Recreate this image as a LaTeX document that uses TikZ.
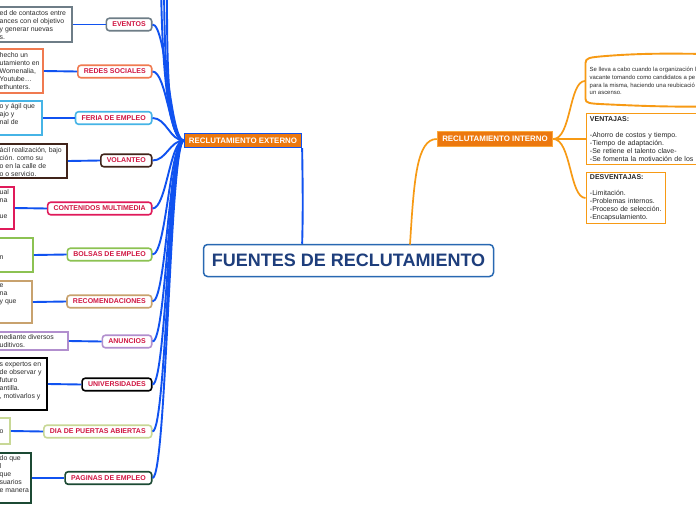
\documentclass[tikz,border=0pt]{standalone}
\usepackage{fontspec}
\setmainfont{Liberation Sans}
\definecolor{blu}{RGB}{16,82,240}
\definecolor{ora}{RGB}{247,154,20}
\definecolor{orafill}{RGB}{236,120,14}
\definecolor{oraborder}{RGB}{250,168,60}
\definecolor{labred}{RGB}{208,22,66}
\definecolor{ctext}{RGB}{30,62,124}
\definecolor{cbord}{RGB}{40,104,178}
\definecolor{dtext}{RGB}{45,45,45}
\definecolor{cEv}{RGB}{110,125,135}
\definecolor{cRs}{RGB}{240,122,80}
\definecolor{cFe}{RGB}{70,180,230}
\definecolor{cVo}{RGB}{64,36,26}
\definecolor{cCm}{RGB}{224,26,90}
\definecolor{cBo}{RGB}{140,194,82}
\definecolor{cRe}{RGB}{200,162,110}
\definecolor{cAn}{RGB}{178,143,206}
\definecolor{cUn}{RGB}{0,0,0}
\definecolor{cDi}{RGB}{200,216,150}
\definecolor{cPa}{RGB}{28,74,52}
\tikzset{
  lab/.style={draw=#1, fill=white, rounded corners=3pt, line width=1.6pt, text=labred,
    font=\fontsize{7}{8}\selectfont\bfseries, inner xsep=6pt, inner ysep=0pt,
    minimum height=12.5pt, anchor=east},
  dbox/.style={draw=#1, fill=white, line width=1.9pt, inner sep=0pt},
  dtxt/.style={anchor=west, align=left, inner sep=0pt, text=dtext,
    font=\fontsize{6.9}{8}\selectfont},
  bl/.style={draw=blu, line width=1.9pt},
  ol/.style={draw=ora, line width=1.7pt},
  obox/.style={draw=ora, fill=white, line width=1.9pt, anchor=west, align=left,
    inner xsep=3.5pt, inner ysep=0pt, text=black!85,
    font=\fontsize{7}{8}\selectfont},
}
\begin{document}
\begin{tikzpicture}[x=1pt,y=-1pt]
\useasboundingbox (0,0) rectangle (696,520);
\fill[white] (0,0) rectangle (696,520);

% central
\node[draw=cbord, line width=1.5pt, rounded corners=4pt, fill=white, text=ctext,
  font=\fontsize{18}{20}\selectfont\bfseries, minimum width=290pt, minimum height=32pt,
  inner sep=0pt] (c) at (348.5,260.5) {FUENTES DE RECLUTAMIENTO};

% main branches
\node[draw=blu, fill=orafill, line width=1.3pt, text=white, font=\fontsize{7.9}{9}\selectfont\bfseries,
  minimum width=117pt, minimum height=14pt, inner sep=0pt] (ext) at (243,140.5) {RECLUTAMIENTO EXTERNO};
\node[draw=oraborder, fill=orafill, line width=1.5pt, text=white, font=\fontsize{7.9}{9}\selectfont\bfseries,
  minimum width=115pt, minimum height=15pt, inner sep=0pt] (int) at (495,139) {RECLUTAMIENTO INTERNO};

% left labels
\node[lab=cEv] (l1) at (152.5,24.5) {EVENTOS};
\node[lab=cRs] (l2) at (152.5,71.5) {REDES SOCIALES};
\node[lab=cFe] (l3) at (152.5,118) {FERIA DE EMPLEO};
\node[lab=cVo] (l4) at (152.5,160.5) {VOLANTEO};
\node[lab=cCm] (l5) at (152.5,208.5) {CONTENIDOS MULTIMEDIA};
\node[lab=cBo] (l6) at (152.5,254.5) {BOLSAS DE EMPLEO};
\node[lab=cRe] (l7) at (152.5,301.5) {RECOMENDACIONES};
\node[lab=cAn] (l8) at (152.5,341.5) {ANUNCIOS};
\node[lab=cUn] (l9) at (152.5,384.5) {UNIVERSIDADES};
\node[lab=cDi] (l10) at (152.5,431.5) {DIA DE PUERTAS ABIERTAS};
\node[lab=cPa] (l11) at (152.5,478) {PAGINAS DE EMPLEO};

% left description boxes
\node[dbox=cEv, minimum width=82pt, minimum height=35.5pt] (d1) at (31,24.5) {};
\node[dbox=cRs, minimum width=53pt, minimum height=44pt] (d2) at (16.5,71) {};
\node[dbox=cFe, minimum width=52pt, minimum height=34.5pt] (d3) at (16,118) {};
\node[dbox=cVo, minimum width=77pt, minimum height=34.5pt] (d4) at (28.5,161) {};
\node[dbox=cCm, minimum width=24pt, minimum height=42.5pt] (d5) at (2,208) {};
\node[dbox=cBo, minimum width=43pt, minimum height=34.5pt] (d6) at (11.5,255) {};
\node[dbox=cRe, minimum width=42pt, minimum height=42.5pt] (d7) at (11,302) {};
\node[dbox=cAn, minimum width=78pt, minimum height=18.5pt] (d8) at (29,341) {};
\node[dbox=cUn, minimum width=57pt, minimum height=52pt] (d9) at (18.5,384) {};
\node[dbox=cDi, minimum width=20pt, minimum height=26.5pt] (d10) at (0,431) {};
\node[dbox=cPa, minimum width=41pt, minimum height=50.5pt] (d11) at (10.5,478) {};

\node[dtxt] (t1) at (-0.5,25) {ed de contactos entre\\ances con el objetivo\\y generar nuevas\\s.};
\node[dtxt] (t2) at (-0.5,71.5) {hecho un\\utamiento en\\Womenalia,\\Youtube…\\ethunters.};
\node[dtxt] (t3) at (-0.5,118) {o y ágil que\\ajo y\\nal de\\\mbox{}};
\node[dtxt] (t4) at (-0.5,161.5) {ácil realización, bajo\\ción. como su\\o en la calle de\\o o servicio.};
\node[dtxt] (t5) at (-0.5,208) {ual\\na\\\mbox{}\\ue\\\mbox{}};
\node[dtxt] (t6) at (-0.5,255) {\mbox{}\\\mbox{}\\n\\\mbox{}};
\node[dtxt] (t7) at (-0.5,302) {e\\na\\y que\\\mbox{}\\\mbox{}};
\node[dtxt] (t8) at (-0.5,341.5) {nediante diversos\\uditivos.};
\node[dtxt] (t9) at (-0.5,384.5) {s expertos en\\de observar y\\futuro\\antilla.\\, motivarlos y\\\mbox{}};
\node[dtxt] (t10) at (-0.5,431.5) {o};
\node[dtxt] (t11) at (-0.5,478) {do que\\l\\que\\suarios\\e manera\\\mbox{}};

% label -> description connectors
\foreach \i in {1,...,11} {\draw[bl] (l\i.west) -- (d\i.east);}

% hub -> labels
\foreach \i in {1,...,11} {\draw[bl] (ext.west) .. controls +(-14,0) and +(14,0) .. (l\i.east);}
\coordinate (u1) at (161,-30);
\coordinate (u2) at (164,-30);
\coordinate (u3) at (167,-30);
\foreach \u in {u1,u2,u3} {\draw[bl] (ext.west) .. controls +(-18,0) and +(0,70) .. (\u);}

% central -> external
\draw[bl] (ext.south east) .. controls +(0.5,40) and +(1,-40) .. (c.north -| ext.south east);

% central -> internal
\coordinate (cO) at (410,244.5);
\draw[ol] (cO) .. controls +(4,-65) and +(-20,0) .. (int.west);

% right boxes
\coordinate (dsin) at (585,81);
\draw[draw=ora, line width=1.9pt, fill=white]
  (585.5,99) -- (585.5,63) .. controls (585.5,58) and (590,57.5) .. (600,56.5)
  .. controls (640,53) and (670,53.5) .. (710,54)
  -- (710,106.5) .. controls (670,107) and (640,106) .. (600,104)
  .. controls (590,103.5) and (585.5,103) .. (585.5,99);
\node[anchor=west, align=left, inner sep=0pt, text=dtext, font=\fontsize{5.95}{7.8}\selectfont]
  (dst) at (589.5,81) {Se lleva a cabo cuando la organización l\\vacante tomando como candidatos a pe\\para la misma, haciendo una reubicació\\un ascenso.};
\node[obox, minimum height=51pt, text width=160pt] (ven) at (585.5,139)
  {\textbf{VENTAJAS:}\\\mbox{}\\-Ahorro de costos y tiempo.\\-Tiempo de adaptación.\\-Se retiene el talento clave-\\-Se fomenta la motivación de los e};
\node[obox, minimum height=51pt, text width=72pt] (des) at (585.5,198)
  {\textbf{DESVENTAJAS:}\\\mbox{}\\-Limitación.\\-Problemas internos.\\-Proceso de selección.\\-Encapsulamiento.};

\draw[ol] (int.east) .. controls +(18,0) and +(-16,0) .. (dsin);
\draw[ol] (int.east) -- (ven.west);
\draw[ol] (int.east) .. controls +(18,0) and +(-16,0) .. (des.west);
\end{tikzpicture}
\end{document}
